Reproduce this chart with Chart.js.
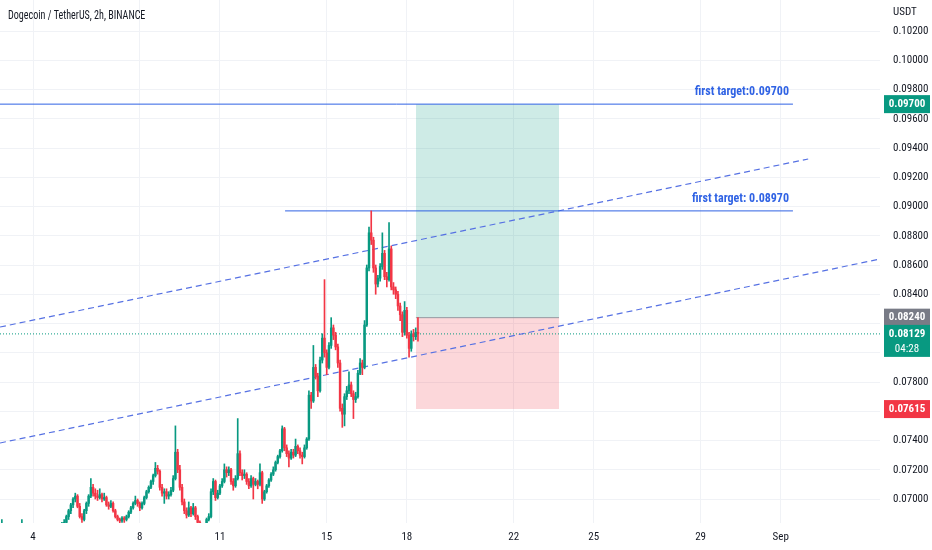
<!DOCTYPE html>
<html>
<head>
<meta charset="utf-8">
<title>Dogecoin / TetherUS, 2h</title>
<script src="https://cdn.jsdelivr.net/npm/chart.js@4.4.0/dist/chart.umd.min.js"></script>
<style>
  html, body { margin: 0; padding: 0; background: #ffffff; }
  #wrap { width: 932px; height: 550px; position: relative; }
</style>
</head>
<body>
<div id="wrap"><canvas id="chart"></canvas></div>
<script>
// prices are in 0.0001 USDT, one candle every 2h starting Aug 2 20:00
var firstCandleDay = 2 + 20 / 24;
var candleHours = 2;

var opens = [
  679,682,680,678,676,677,675,676,678,680,
  682,679,677,675,673,674,672,670,672,674,
  673,675,677,676,678,680,679,681,683,684,
  688,692,696,700,702,695,688,686,692,697,
  702,708,704,702,701,703,700,701,696,695,
  697,692,688,686,685,687,686,688,691,694,
  697,699,697,694,697,701,705,708,712,716,
  721,719,708,704,705,702,703,706,714,732,
  720,708,698,692,689,694,690,694,688,684,
  680,678,681,686,688,705,712,701,704,709,
  712,720,718,720,712,709,714,731,718,716,
  717,712,709,714,710,712,710,718,700,705,
  709,713,717,720,725,729,733,748,735,731,
  728,732,730,736,733,730,729,735,741,771,
  767,790,784,774,795,810,800,790,805,817,
  812,804,793,762,758,770,774,778,772,768,
  770,786,793,790,819,858,882,877,858,847,
  851,859,868,852,850,871,845,843,840,832,
  826,814,829,812,803,813,811,814
];
var highs = [
  686,683,681,679,679,678,677,679,681,686,
  683,680,678,676,676,675,673,673,675,675,
  676,678,678,679,681,681,682,684,686,689,
  693,697,701,704,703,697,690,693,698,703,
  714,710,707,706,707,704,704,702,698,699,
  698,693,689,687,688,688,689,692,695,698,
  702,700,698,698,702,706,709,713,717,725,
  723,720,710,707,707,705,708,716,750,734,
  723,710,700,694,698,695,697,695,689,685,
  682,683,687,690,707,714,713,706,710,714,
  724,722,722,721,714,716,755,733,720,720,
  718,714,716,715,714,713,724,719,706,710,
  714,718,722,726,730,734,750,749,737,733,
  734,734,741,737,735,732,737,742,774,773,
  805,792,786,797,813,850,802,807,824,819,
  814,806,795,765,772,777,787,780,774,773,
  788,796,795,822,860,886,897,879,860,853,
  861,882,870,855,889,873,848,845,842,834,
  828,835,831,814,815,816,817,824
];
var lows = [
  677,678,676,674,675,673,674,675,677,679,
  677,676,673,671,672,670,668,669,671,671,
  672,674,674,675,677,677,678,680,682,683,
  686,690,694,698,694,687,684,685,690,695,
  701,702,700,699,700,698,699,695,693,694,
  691,687,685,683,684,684,685,687,690,693,
  696,695,692,693,696,700,704,707,710,715,
  717,706,702,697,700,700,702,705,713,718,
  706,696,690,687,688,688,689,686,682,678,
  676,677,680,685,687,703,699,700,703,708,
  711,715,716,710,706,708,713,716,713,714,
  710,707,708,700,709,707,709,697,699,704,
  708,712,716,719,724,728,732,733,729,722,
  727,728,729,731,728,724,728,734,740,762,
  766,782,770,773,793,797,785,789,803,809,
  802,790,760,749,750,768,772,770,755,766,
  769,785,785,789,818,856,874,855,840,845,
  849,857,850,845,849,843,840,837,829,822,
  811,812,810,797,801,808,809,808
];
var closes = [
  682,680,678,676,677,675,676,678,680,682,
  679,677,675,673,674,672,670,672,674,673,
  675,677,676,678,680,679,681,683,684,688,
  692,696,700,702,695,688,686,692,697,702,
  708,704,702,701,703,700,701,696,695,697,
  692,688,686,685,687,686,688,691,694,697,
  699,697,694,697,701,705,708,712,716,721,
  719,708,704,705,702,703,706,714,732,720,
  708,698,692,689,694,690,694,688,684,680,
  678,681,686,688,705,712,701,704,709,712,
  720,718,720,712,709,714,731,718,716,717,
  712,709,714,710,712,710,718,700,705,709,
  713,717,720,725,729,733,748,735,731,728,
  732,730,736,733,730,729,735,741,771,767,
  790,784,774,795,810,800,790,805,817,812,
  804,793,762,758,770,774,778,772,768,770,
  786,793,790,819,858,882,877,858,847,851,
  859,868,852,850,871,845,843,840,832,826,
  814,829,812,803,813,811,814,812.9
];

// axis ticks (x in days of August, 32 = Sep 1)
var dayTicks = [4, 8, 11, 15, 18, 22, 25, 29, 32];
var dayLabels = ['4', '8', '11', '15', '18', '22', '25', '29', 'Sep'];
var priceTicks = [0.070, 0.072, 0.074, 0.076, 0.078, 0.080, 0.082, 0.084, 0.086,
                  0.088, 0.090, 0.092, 0.094, 0.096, 0.098, 0.100, 0.102];

// drawings
var targetPrices = [0.09700, 0.08970];
var targetLabels = ['first target:0.09700', 'first target: 0.08970'];
var targetStartDays = [2.764, 13.44];
var targetEndDay = 32.46;
var entryPrice = 0.08240, stopPrice = 0.07615, takePrice = 0.09700;
var boxStartDay = 18.34, boxEndDay = 23.70;
var lastPrice = 0.08129, countdown = '04:28';
var channelUpper = [[2.764, 0.08176], [33.03, 0.09325]];
var channelLower = [[2.764, 0.07383], [35.72, 0.08641]];

var viewStartDay = 2.764, viewEndDay = 35.72;
var priceMin = 0.06836, priceMax = 0.10412;

var upColor = '#089981', downColor = '#f23645';
var lineBlue = '#2f62e4', dashBlue = '#5671e3';
var textColor = '#131722', gridColor = '#f0f2f6';
var fontStack = '"Liberation Sans Narrow", "Arial Narrow", "Roboto Condensed", "Liberation Sans", sans-serif';

function dayOf(i) { return firstCandleDay + i * candleHours / 24; }
var wickData = lows.map(function (l, i) { return { x: dayOf(i), y: [l / 1e4, highs[i] / 1e4] }; });
var bodyData = opens.map(function (o, i) { return { x: dayOf(i), y: [o / 1e4, closes[i] / 1e4] }; });
var candleColors = closes.map(function (c, i) { return c >= opens[i] ? upColor : downColor; });

function seg(points) { return points.map(function (p) { return { x: p[0], y: p[1] }; }); }
function flat(x0, x1, v) { return [{ x: x0, y: v }, { x: x1, y: v }]; }

var overlay = {
  id: 'overlay',
  afterDraw: function (chart) {
    var ctx = chart.ctx, area = chart.chartArea;
    var xs = chart.scales.x, ys = chart.scales.y;
    ctx.save();
    ctx.textBaseline = 'middle';
    ctx.textAlign = 'left';
    ctx.fillStyle = textColor;
    // title is a bit tighter than the narrow face
    ctx.save();
    ctx.translate(8, 16);
    ctx.scale(0.84, 1);
    ctx.font = '12px ' + fontStack;
    ctx.fillText('Dogecoin / TetherUS, 2h, BINANCE', 0, 0);
    ctx.restore();
    ctx.font = '11px ' + fontStack;
    ctx.fillText('USDT', area.right + 13, 12);

    ctx.font = 'bold 12px ' + fontStack;
    ctx.fillStyle = lineBlue;
    ctx.textAlign = 'right';
    targetLabels.forEach(function (t, i) {
      ctx.fillText(t, xs.getPixelForValue(targetEndDay) - 4, ys.getPixelForValue(targetPrices[i]) - 12);
    });

    function badge(price, color, label, extra) {
      var py = ys.getPixelForValue(price);
      var h = extra ? 32 : 18;
      var top = py - 9;
      ctx.fillStyle = color;
      ctx.fillRect(area.right + 4, top, 46, h);
      ctx.fillStyle = '#ffffff';
      ctx.textAlign = 'center';
      ctx.font = 'bold 11px ' + fontStack;
      ctx.fillText(label, area.right + 27, py);
      if (extra) {
        ctx.font = '11px ' + fontStack;
        ctx.fillText(extra, area.right + 27, py + 15);
      }
    }
    badge(takePrice, upColor, takePrice.toFixed(5));
    badge(entryPrice, '#787b86', entryPrice.toFixed(5));
    badge(lastPrice, upColor, lastPrice.toFixed(5), countdown);
    badge(stopPrice, downColor, stopPrice.toFixed(5));
    ctx.restore();
  }
};

new Chart(document.getElementById('chart'), {
  type: 'bar',
  data: {
    datasets: [
      { type: 'line', data: flat(boxStartDay, boxEndDay, takePrice), borderWidth: 0, pointRadius: 0,
        fill: { value: entryPrice }, backgroundColor: 'rgba(8,153,129,0.2)', order: 10 },
      { type: 'line', data: flat(boxStartDay, boxEndDay, stopPrice), borderWidth: 0, pointRadius: 0,
        fill: { value: entryPrice }, backgroundColor: 'rgba(242,54,69,0.2)', order: 10 },
      { type: 'line', data: flat(boxStartDay, boxEndDay, entryPrice), borderColor: '#9598a1', borderWidth: 1,
        pointRadius: 0, order: 9 },
      { type: 'line', data: flat(viewStartDay, viewEndDay, lastPrice), borderColor: upColor, borderWidth: 1,
        borderDash: [1, 2], pointRadius: 0, order: 8 },
      { type: 'line', data: seg(channelUpper), borderColor: dashBlue, borderWidth: 1.2,
        borderDash: [6, 4], pointRadius: 0, order: 7 },
      { type: 'line', data: seg(channelLower), borderColor: dashBlue, borderWidth: 1.2,
        borderDash: [6, 4], pointRadius: 0, order: 7 },
      { type: 'line', data: flat(targetStartDays[0], targetEndDay, targetPrices[0]), borderColor: lineBlue,
        borderWidth: 1, pointRadius: 0, order: 6 },
      { type: 'line', data: flat(targetStartDays[1], targetEndDay, targetPrices[1]), borderColor: lineBlue,
        borderWidth: 1, pointRadius: 0, order: 6 },
      { data: wickData, backgroundColor: candleColors, barThickness: 1, grouped: false, order: 2 },
      { data: bodyData, backgroundColor: candleColors, barThickness: 1.8, grouped: false, order: 1 }
    ]
  },
  options: {
    responsive: true,
    maintainAspectRatio: false,
    animation: false,
    layout: { padding: 0 },
    plugins: { legend: { display: false }, tooltip: { enabled: false } },
    scales: {
      x: {
        type: 'linear', min: viewStartDay, max: viewEndDay, offset: false,
        grid: { color: gridColor, drawTicks: false, offset: false },
        border: { display: false },
        ticks: {
          color: textColor, padding: 8, maxRotation: 0, autoSkip: false,
          font: { size: 11, family: fontStack },
          callback: function (v) { var k = dayTicks.indexOf(v); return k < 0 ? '' : dayLabels[k]; }
        },
        afterBuildTicks: function (s) { s.ticks = dayTicks.map(function (v) { return { value: v }; }); },
        afterFit: function (s) { s.height = 27; s.paddingLeft = 0; s.paddingRight = 0; }
      },
      y: {
        type: 'linear', position: 'right', min: priceMin, max: priceMax,
        grid: { color: gridColor, drawTicks: false },
        border: { display: false },
        ticks: {
          color: textColor, padding: 13,
          font: { size: 11, family: fontStack },
          callback: function (v) { return v.toFixed(5); }
        },
        afterBuildTicks: function (s) { s.ticks = priceTicks.map(function (v) { return { value: v }; }); },
        afterFit: function (s) { s.width = 52; s.paddingTop = 0; s.paddingBottom = 0; }
      }
    }
  },
  plugins: [overlay]
});
</script>
</body>
</html>
